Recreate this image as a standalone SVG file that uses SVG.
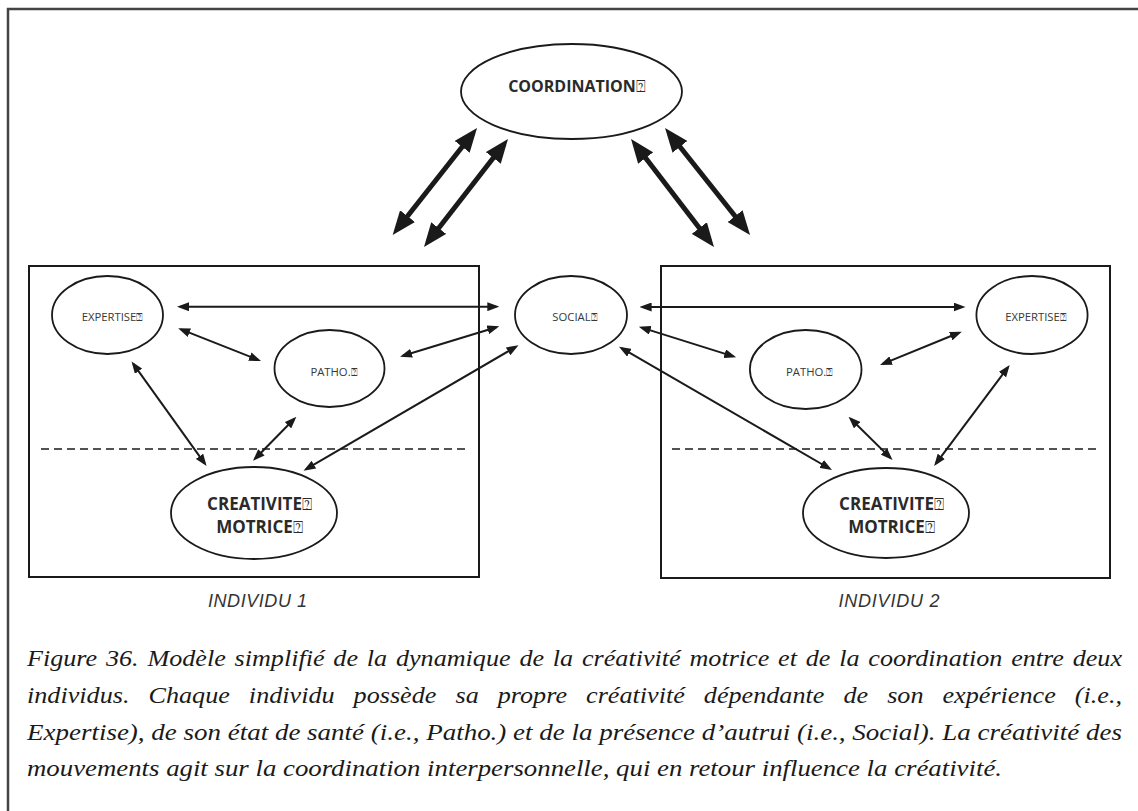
<svg xmlns="http://www.w3.org/2000/svg" width="1138" height="811" viewBox="0 0 1138 811">
<style>
.frame{fill:none;stroke:#444;stroke-width:2.5}
.box{fill:none;stroke:#1a1a1a;stroke-width:2}
.ell{fill:#fff;stroke:#1a1a1a;stroke-width:1.8}
.dash{stroke:#1a1a1a;stroke-width:1.5;stroke-dasharray:8,5}
.thin{stroke:#1a1a1a;stroke-width:2;fill:none;marker-start:url(#ah);marker-end:url(#ah)}
.thick{stroke:#1a1a1a;stroke-width:5;fill:none;marker-start:url(#bh);marker-end:url(#bh)}
.small{font-family:"Open Sans","Noto Sans",sans-serif;font-size:11.3px;fill:#383838;text-anchor:middle}
.big{font-family:"Open Sans","Noto Sans",sans-serif;font-size:17px;font-weight:bold;fill:#2a2a2a;text-anchor:middle}
.coord{font-family:"Open Sans","Noto Sans",sans-serif;font-size:16px;font-weight:bold;fill:#2a2a2a;text-anchor:middle}
.ind{font-family:"Liberation Sans",Arial,sans-serif;font-style:italic;font-size:18px;fill:#333;text-anchor:middle}
.cap{font-family:"Liberation Serif","Times New Roman",serif;font-style:italic;font-size:23px;fill:#1a1a1a}
.sq{font-family:"DejaVu Sans",sans-serif;font-weight:normal}
</style>
<defs>
<marker id="ah" viewBox="0 0 12 9" refX="9" refY="4.5" markerWidth="12" markerHeight="9" markerUnits="userSpaceOnUse" orient="auto-start-reverse">
<path d="M0,0 L12,4.5 L0,9 z" fill="#1a1a1a"/>
</marker>
<marker id="bh" viewBox="0 0 24 19" refX="17" refY="9.5" markerWidth="24" markerHeight="19" markerUnits="userSpaceOnUse" orient="auto-start-reverse">
<path d="M0,0 L24,9.5 L0,19 z" fill="#1a1a1a"/>
</marker>
</defs>
<rect width="1138" height="811" fill="#fff"/>
<path class="frame" d="M8,811 V9 H1138"/>

<g id="individu1-box">
<rect class="box" x="29" y="266" width="450" height="311"/>
<line class="dash" x1="41" y1="449" x2="469" y2="449"/>
<text class="ind" x="257.5" y="607" textLength="99">INDIVIDU 1</text>
</g>
<g id="individu2-box">
<rect class="box" x="661" y="266" width="449" height="312"/>
<line class="dash" x1="672" y1="449" x2="1100" y2="449"/>
<text class="ind" x="889" y="607" textLength="101">INDIVIDU 2</text>
</g>

<g id="connectors">
<line class="thick" x1="472.7" y1="133.5" x2="397" y2="229.5"/>
<line class="thick" x1="503.7" y1="144.5" x2="428.3" y2="241.5"/>
<line class="thick" x1="635.3" y1="144.6" x2="709.7" y2="241.5"/>
<line class="thick" x1="669.4" y1="133.5" x2="745.7" y2="229.5"/>
<line class="thin" x1="180" y1="306.7" x2="496.3" y2="306.7"/>
<line class="thin" x1="181" y1="329.4" x2="258.2" y2="359.9"/>
<line class="thin" x1="402.9" y1="355.8" x2="496.4" y2="327.2"/>
<line class="thin" x1="133.3" y1="363.9" x2="204.8" y2="463.6"/>
<line class="thin" x1="294.3" y1="418.8" x2="255.1" y2="458.7"/>
<line class="thin" x1="515.9" y1="346.8" x2="306.1" y2="469.2"/>
<line class="thin" x1="642.6" y1="307" x2="962.5" y2="307"/>
<line class="thin" x1="641.7" y1="327.6" x2="733.3" y2="356.4"/>
<line class="thin" x1="882.8" y1="363.9" x2="959" y2="332.8"/>
<line class="thin" x1="621.6" y1="348.2" x2="829.4" y2="468.5"/>
<line class="thin" x1="850.7" y1="418.8" x2="890.4" y2="457.9"/>
<line class="thin" x1="1007.9" y1="367.4" x2="935.9" y2="463.6"/>
</g>

<g id="coordination">
<ellipse class="ell" cx="571.5" cy="91.5" rx="110.5" ry="47.5"/>
<text class="coord" x="577" y="92">COORDINATION<tspan class="sq">⍰</tspan></text>
</g>
<g id="social">
<ellipse class="ell" cx="571" cy="315" rx="56" ry="39"/>
<text class="small" x="575" y="321">SOCIAL<tspan class="sq">⍰</tspan></text>
</g>
<g id="expertise1">
<ellipse class="ell" cx="107.5" cy="315" rx="55.5" ry="39"/>
<text class="small" x="112.5" y="321">EXPERTISE<tspan class="sq">⍰</tspan></text>
</g>
<g id="patho1">
<ellipse class="ell" cx="329.5" cy="368.5" rx="55" ry="38.5"/>
<text class="small" x="334" y="376">PATHO.<tspan class="sq">⍰</tspan></text>
</g>
<g id="creativite1">
<ellipse class="ell" cx="254" cy="513" rx="83" ry="46"/>
<text class="big" x="259.5" y="510">CREATIVITE<tspan class="sq">⍰</tspan></text>
<text class="big" x="259.5" y="533">MOTRICE<tspan class="sq">⍰</tspan></text>
</g>
<g id="expertise2">
<ellipse class="ell" cx="1032" cy="315" rx="55.6" ry="39"/>
<text class="small" x="1036" y="321">EXPERTISE<tspan class="sq">⍰</tspan></text>
</g>
<g id="patho2">
<ellipse class="ell" cx="805.7" cy="369.5" rx="55.8" ry="39.5"/>
<text class="small" x="809.7" y="376">PATHO.<tspan class="sq">⍰</tspan></text>
</g>
<g id="creativite2">
<ellipse class="ell" cx="886" cy="513" rx="83" ry="45"/>
<text class="big" x="891.5" y="510">CREATIVITE<tspan class="sq">⍰</tspan></text>
<text class="big" x="891.5" y="533">MOTRICE<tspan class="sq">⍰</tspan></text>
</g>

<g id="caption">
<text class="cap" x="27" y="666" textLength="1095" lengthAdjust="spacingAndGlyphs" word-spacing="2">Figure 36. Modèle simplifié de la dynamique de la créativité motrice et de la coordination entre deux</text>
<text class="cap" x="27" y="703" textLength="1095" lengthAdjust="spacingAndGlyphs" word-spacing="11">individus. Chaque individu possède sa propre créativité dépendante de son expérience (i.e.,</text>
<text class="cap" x="27" y="739.5" textLength="1095" lengthAdjust="spacingAndGlyphs">Expertise), de son état de santé (i.e., Patho.) et de la présence d’autrui (i.e., Social). La créativité des</text>
<text class="cap" x="27" y="776" textLength="975" lengthAdjust="spacingAndGlyphs">mouvements agit sur la coordination interpersonnelle, qui en retour influence la créativité.</text>
</g>
</svg>
